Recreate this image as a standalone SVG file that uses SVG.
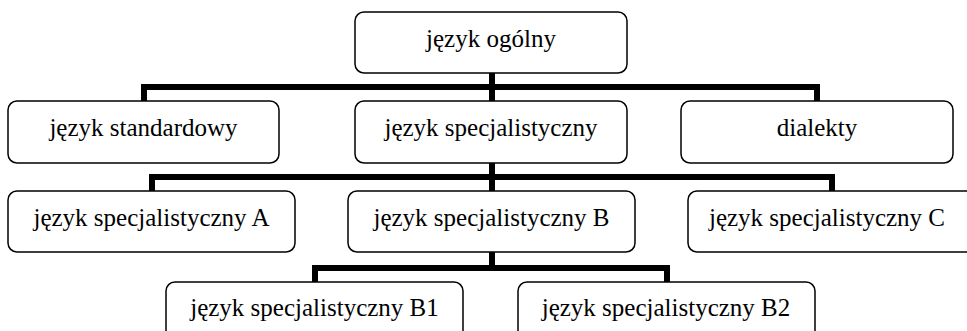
<svg xmlns="http://www.w3.org/2000/svg" width="967" height="331" viewBox="0 0 967 331">
<style>
.box{fill:#fff;stroke:#000;stroke-width:1.5}
.lbl{font-family:"Liberation Serif","Times New Roman",serif;font-size:25px;fill:#000;text-anchor:middle}
.conn{fill:none;stroke:#000;stroke-width:6;stroke-linejoin:miter;stroke-linecap:butt}
</style>
<rect width="967" height="331" fill="#fff"/>
<g id="connectors">
<path class="conn" d="M492,73 V101 M144,101 V87 H817 V101"/>
<path class="conn" d="M492,163 V191 M152,191 V177 H832 V191"/>
<path class="conn" d="M492,252 V268 M315,282 V268 H667 V282"/>
</g>
<g id="n_ogolny"><rect class="box" x="355" y="12" width="272" height="61" rx="9"/><text class="lbl" x="491" y="47">język ogólny</text></g>
<g id="n_standard"><rect class="box" x="8" y="101" width="271" height="62" rx="9"/><text class="lbl" x="143.5" y="136">język standardowy</text></g>
<g id="n_spec"><rect class="box" x="355" y="101" width="272" height="62" rx="9"/><text class="lbl" x="491" y="136">język specjalistyczny</text></g>
<g id="n_dialekty"><rect class="box" x="681" y="101" width="272" height="62" rx="9"/><text class="lbl" x="817" y="136">dialekty</text></g>
<g id="n_A"><rect class="box" x="8" y="191" width="287" height="61" rx="9"/><text class="lbl" x="151.5" y="226">język specjalistyczny A</text></g>
<g id="n_B"><rect class="box" x="348" y="191" width="287" height="61" rx="9"/><text class="lbl" x="491.5" y="226">język specjalistyczny B</text></g>
<g id="n_C"><rect class="box" x="688" y="191" width="290" height="61" rx="9"/><text class="lbl" x="827" y="226">język specjalistyczny C</text></g>
<g id="n_B1"><rect class="box" x="166" y="282" width="297" height="60" rx="9"/><text class="lbl" x="314.5" y="316">język specjalistyczny B1</text></g>
<g id="n_B2"><rect class="box" x="518" y="282" width="297" height="60" rx="9"/><text class="lbl" x="666" y="316">język specjalistyczny B2</text></g>
</svg>
